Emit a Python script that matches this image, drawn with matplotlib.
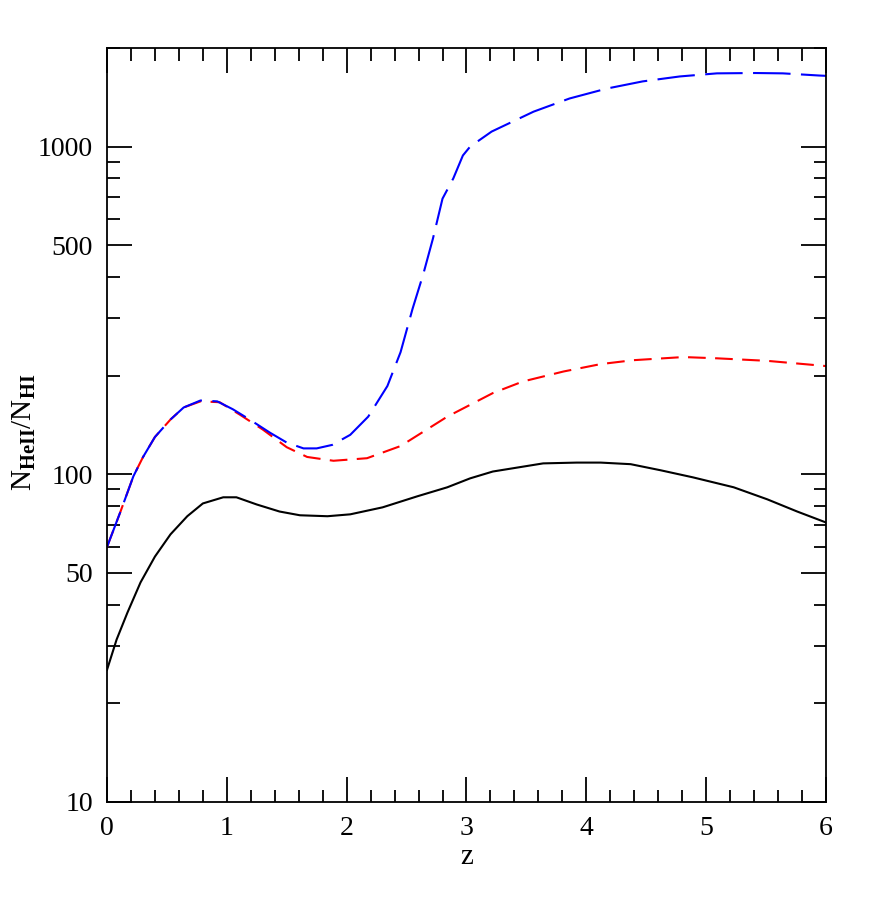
import matplotlib
matplotlib.use("Agg")
import matplotlib.pyplot as plt
from matplotlib.ticker import FixedLocator, NullFormatter, MultipleLocator

plt.rcParams["font.family"] = ["Liberation Serif", "DejaVu Serif"]
plt.rcParams["mathtext.fontset"] = "custom"
plt.rcParams["mathtext.rm"] = "Liberation Serif"
plt.rcParams["mathtext.bf"] = "Liberation Serif:bold"

# ----------------------------
# Data
# ----------------------------

z_solid = [0.0, 0.08, 0.17, 0.28, 0.4, 0.53, 0.67, 0.8, 0.97, 1.08, 1.25, 1.44, 1.61, 1.84,
           2.03, 2.3, 2.59, 2.84, 3.03, 3.22, 3.64, 3.92, 4.12, 4.37, 4.62, 4.89, 5.23,
           5.51, 5.76, 6.0]
n_solid = [25.3, 31.3, 37.8, 46.8, 56.1, 65.6, 74.5, 81.5, 85.1, 85.1, 80.9, 77.0, 75.0, 74.5,
           75.5, 79.3, 85.7, 91.3, 97.2, 102.0, 108.0, 108.6, 108.6, 107.4, 102.9, 97.9, 91.3,
           83.9, 77.0, 71.3]

z_red = [0.0, 0.11, 0.22, 0.3, 0.4, 0.53, 0.64, 0.78, 0.94, 1.11, 1.3, 1.5, 1.67,
         1.89, 2.17, 2.45, 2.84, 3.22, 3.47, 3.81, 4.12, 4.39, 4.81, 5.09, 5.51, 5.94, 6.0]
n_red = [60.0, 76.5, 98.6, 112.8, 130.0, 147.0, 160.0, 167.0, 166.0, 152.0, 137.0, 121.0, 113.0,
         110.0, 112.0, 122.0, 150.0, 177.0, 192.0, 206.0, 217.0, 223.0, 228.0, 226.0, 222.0, 215.0, 214.0]

z_blue = [0.0, 0.11, 0.22, 0.3, 0.4, 0.53, 0.64, 0.78, 0.92, 1.05, 1.19, 1.36, 1.5, 1.64,
          1.75, 1.88, 2.03, 2.18, 2.34, 2.45, 2.55, 2.64, 2.72, 2.8, 2.89, 2.97, 3.03,
          3.21, 3.56, 3.86, 4.17, 4.47, 4.78, 5.09, 5.41, 5.64, 5.94, 6.0]
n_blue = [60.0, 76.5, 98.6, 112.8, 130.0, 147.0, 160.0, 168.0, 167.0, 158.0, 147.0, 134.0, 125.0, 120.0,
          120.0, 123.0, 132.0, 150.0, 186.0, 236.0, 320.0, 409.0, 524.0, 694.0, 800.0, 940.0, 1000.0,
          1112.0, 1279.0, 1403.0, 1504.0, 1582.0, 1638.0, 1674.0, 1678.0, 1674.0, 1649.0, 1645.0]

y_major = [10, 50, 100, 500, 1000]
y_minor = [20, 30, 40, 60, 70, 80, 90, 200, 300, 400, 600, 700, 800, 900, 2000]

# ----------------------------
# Plot
# ----------------------------

fig = plt.figure(figsize=(8.72, 9.15), dpi=100)
ax = fig.add_axes([0.1227, 0.1235, 0.8245, 0.824])

ax.plot(z_solid, n_solid, color="black", lw=1.5)
ax.plot(z_red, n_red, color="red", lw=1.5, dashes=(8.5, 4.5))
ax.plot(z_blue, n_blue, color="blue", lw=1.5, dashes=(18, 5))

ax.set_yscale("log")
ax.set_xlim(0, 6)
ax.set_ylim(10, 2000)

ax.xaxis.set_major_locator(MultipleLocator(1))
ax.xaxis.set_minor_locator(MultipleLocator(0.2))
ax.yaxis.set_major_locator(FixedLocator(y_major))
ax.yaxis.set_minor_locator(FixedLocator(y_minor))
ax.yaxis.set_major_formatter(plt.FuncFormatter(lambda v, p: f"{v:g}"))
ax.yaxis.set_minor_formatter(NullFormatter())

ax.tick_params(which="both", direction="in", top=True, right=True, labelsize=20, width=1.3)
ax.tick_params(which="major", length=18, pad=10)
ax.tick_params(which="minor", length=9)
for s in ax.spines.values():
    s.set_linewidth(1.3)

ax.set_xlabel("z", fontsize=21, labelpad=2)
ax.set_ylabel(r"$\mathrm{N}_{\mathbf{HeII}}/\mathrm{N}_{\mathbf{HI}}$", fontsize=21)
ax.yaxis.set_label_coords(-0.096, 0.49)

plt.savefig("out.png", dpi=100)
plt.close()
